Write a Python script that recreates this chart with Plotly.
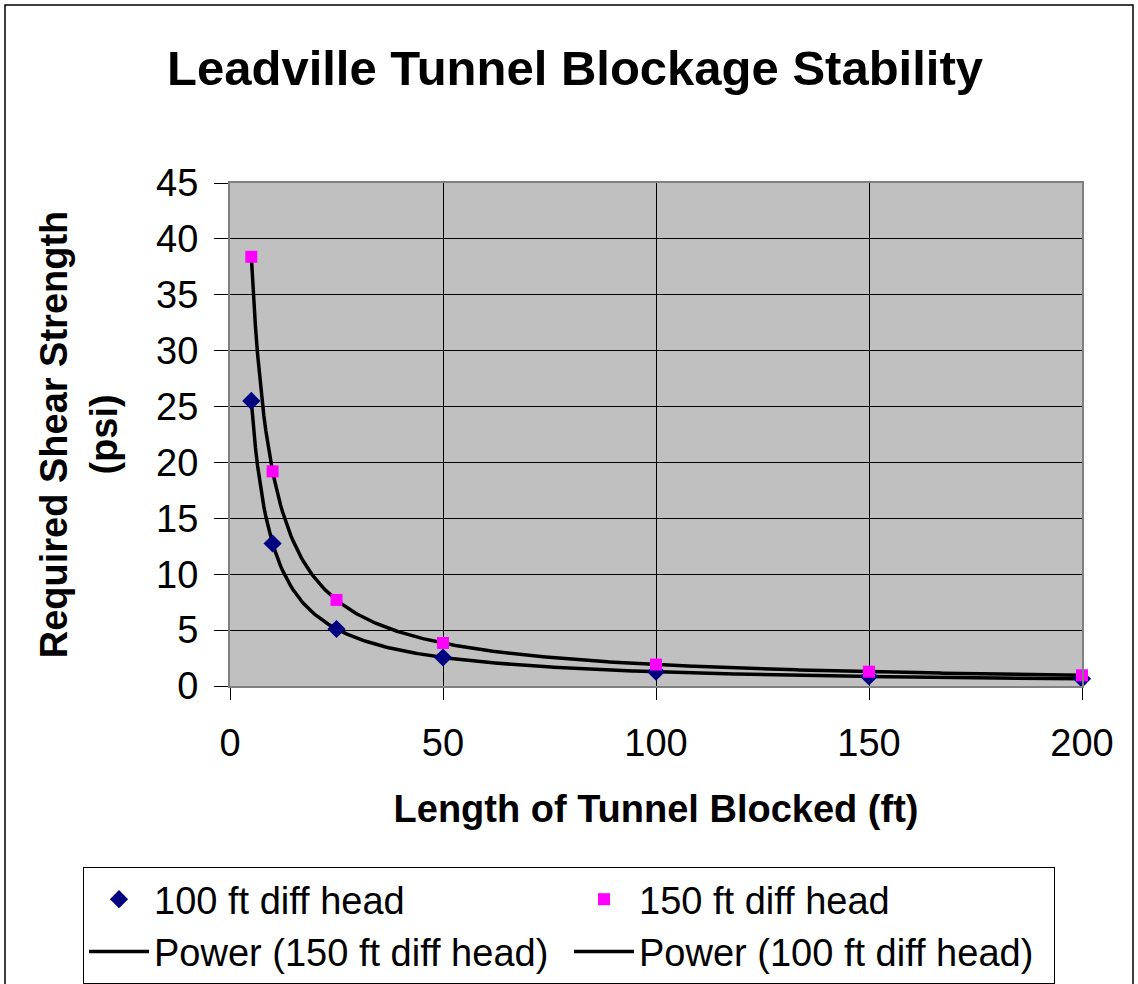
import numpy as np
import plotly.graph_objects as go

# Data
length_ft = [5, 10, 25, 50, 100, 150, 200]
head_100 = [25.5, 12.75, 5.1, 2.55, 1.28, 0.85, 0.64]
head_150 = [38.4, 19.2, 7.7, 3.85, 1.92, 1.28, 0.96]
x_ticks = [0, 50, 100, 150, 200]
y_ticks = [0, 5, 10, 15, 20, 25, 30, 35, 40, 45]


def power_fit(x, y):
    # least-squares power trendline (as in a spreadsheet "Power" trendline)
    b, loga = np.polyfit(np.log(x), np.log(y), 1)
    xs = np.linspace(min(x), max(x), 400)
    return xs, np.exp(loga) * xs ** b


W, H = 1138, 984
L, R, T, B = 230, 1082, 183, 686
FONT = "Liberation Sans, Arial, sans-serif"
FS = 38

x150, y150 = power_fit(length_ft, head_150)
x100, y100 = power_fit(length_ft, head_100)

fig = go.Figure()
fig.add_trace(go.Scatter(x=x150, y=y150, mode="lines", name="Power (150 ft diff head)",
                         line=dict(color="black", width=3.5), legendrank=3))
fig.add_trace(go.Scatter(x=x100, y=y100, mode="lines", name="Power (100 ft diff head)",
                         line=dict(color="black", width=3.5), legendrank=4))
fig.add_trace(go.Scatter(x=length_ft, y=head_100, mode="markers", name="100 ft diff head",
                         marker=dict(symbol="diamond", color="#000080", size=14), legendrank=1,
                         cliponaxis=False))
fig.add_trace(go.Scatter(x=length_ft, y=head_150, mode="markers", name="150 ft diff head",
                         marker=dict(symbol="square", color="#FF00FF", size=12), legendrank=2,
                         cliponaxis=False))

pw, ph = R - L, B - T


def px(xp):
    return (xp - L) / pw


def py(yp):
    return (B - yp) / ph


fig.update_layout(
    width=W, height=H,
    margin=dict(l=L, r=W - R, t=T, b=H - B, autoexpand=False),
    paper_bgcolor="white",
    plot_bgcolor="#C0C0C0",
    font=dict(family=FONT, size=FS, color="black"),
    title=dict(text="<b>Leadville Tunnel Blockage Stability</b>", x=575 / W, xanchor="center",
               y=1 - 68 / H, yanchor="middle", font=dict(size=49, family=FONT)),
    xaxis=dict(range=[0, 200], tickvals=x_ticks, showgrid=True, gridcolor="black", gridwidth=1,
               ticks="outside", ticklen=12, tickcolor="black", zeroline=False,
               showline=True, linecolor="#808080", linewidth=2, mirror=True,
               ticklabelstandoff=10,
               tickfont=dict(size=FS), title=dict(text="<b>Length of Tunnel Blocked (ft)</b>",
                                                   font=dict(size=FS), standoff=33)),
    yaxis=dict(range=[0, 45], tickvals=y_ticks, showgrid=True, gridcolor="black", gridwidth=1,
               ticks="outside", ticklen=14, tickcolor="black", zeroline=False,
               showline=True, linecolor="#808080", linewidth=2, mirror=True,
               ticklabelstandoff=8,
               tickfont=dict(size=FS),
               title=dict(text="<b>Required Shear Strength<br>(psi)</b>", font=dict(size=FS), standoff=27)),
    legend=dict(orientation="h", x=px(83), y=py(867), xanchor="left", yanchor="top",
                bordercolor="black", borderwidth=1, bgcolor="white",
                font=dict(size=FS), entrywidth=410, entrywidthmode="pixels",
                traceorder="normal", itemwidth=60),
    showlegend=True,
)

fig.add_shape(type="rect", xref="paper", yref="paper",
              x0=px(5), x1=px(1133), y0=py(1000), y1=py(5),
              line=dict(color="black", width=1.5), fillcolor="rgba(0,0,0,0)", layer="below")

fig.write_html("out.html", config={"displayModeBar": False},
               post_script="document.body.style.margin='0';")
